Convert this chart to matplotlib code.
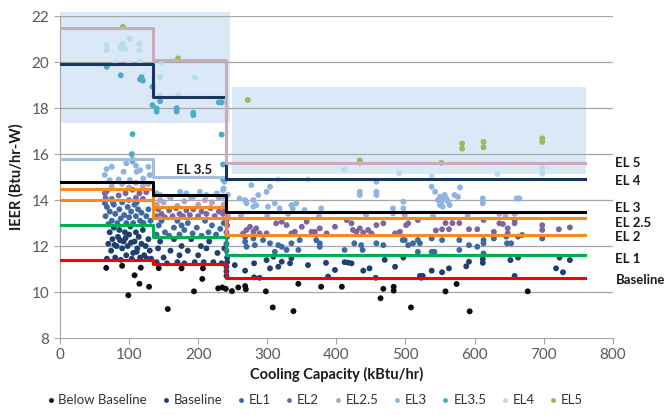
# -*- coding: utf-8 -*-
"""
IEER vs cooling capacity, with efficiency level step lines
"""
import matplotlib
matplotlib.use("Agg")
import matplotlib.pyplot as plt
from matplotlib.patches import Rectangle
from matplotlib.lines import Line2D

plt.rcParams['font.family'] = ['Lato', 'DejaVu Sans']

# capacity break points of the step lines (kBtu/hr)
breaks = [0, 135, 240, 760]

# IEER level of each standard line on each capacity range
levels = {
    "Baseline": [11.4, 11.2, 10.6],
    "EL 1": [12.9, 12.4, 11.6],
    "EL 2": [14.0, 13.2, 12.5],
    "EL 2.5": [14.5, 13.7, 13.2],
    "EL 3": [14.8, 14.2, 13.5],
    "EL 3.5": [15.8, 15.0],
    "EL 4": [19.9, 18.5, 14.9],
    "EL 5": [21.5, 20.1, 15.6],
}
line_colors = {
    "Baseline": "#FF0000", "EL 1": "#00B050", "EL 2": "#F68B1F",
    "EL 2.5": "#F68B1F", "EL 3": "#000000", "EL 3.5": "#A9BCDB",
    "EL 4": "#17375E", "EL 5": "#CDAAB8",
}
# right-hand labels (name, y position)
right_labels = [("EL 5", 15.6), ("EL 4", 14.84), ("EL 3", 13.65), ("EL 2.5", 13.0),
                ("EL 2", 12.4), ("EL 1", 11.43), ("Baseline", 10.52)]

# highlighted regions: (x0, y0, x1, y1)
regions = [(0, 17.35, 246, 22.2), (249, 15.15, 761, 18.9)]

# models (capacity, IEER) per efficiency group
below_pts = [(67, 11.05), (90, 11.14), (99, 9.86), (108, 10.73), (115, 10.36), (117, 11.06),
             (129, 10.23), (143, 11.04), (156, 9.26), (176, 11.03), (194, 10.03), (206, 10.57),
             (207, 11.03), (229, 10.16), (235, 10.2), (240, 10.14), (249, 10.04), (258, 10.2),
             (268, 10.26), (269, 10.12), (298, 10.03), (308, 9.33), (338, 9.17), (345, 10.36),
             (378, 10.23), (408, 10.23), (464, 9.73), (468, 10.14), (483, 10.23), (483, 10.06),
             (508, 9.33), (558, 10.03), (574, 10.35), (593, 9.16), (677, 10.03)]

baseline_pts = [(68, 11.45), (70, 12.1), (72, 12.6), (74, 11.8), (76, 12.3), (78, 12.8), (80, 11.5),
                (82, 12.0), (84, 12.4), (86, 12.7), (88, 11.4), (90, 11.9), (92, 12.2), (94, 12.6),
                (96, 11.6), (98, 12.0), (100, 12.5), (102, 12.85), (104, 11.45), (106, 11.7),
                (108, 12.2), (110, 12.6), (112, 11.9), (114, 12.4), (116, 11.5), (118, 12.1),
                (120, 12.7), (122, 11.6), (124, 12.0), (126, 11.45), (128, 12.3), (130, 11.8),
                (132, 11.45), (79, 12.05), (87, 12.25), (95, 12.35), (103, 12.15), (111, 11.75),
                (140, 11.3), (142, 11.9), (145, 12.2), (150, 11.5), (155, 11.25), (160, 11.8),
                (165, 12.3), (170, 11.3), (173, 11.6), (176, 12.0), (180, 11.25), (185, 11.8),
                (190, 12.3), (195, 11.3), (200, 11.6), (204, 12.0), (208, 11.3), (212, 11.9),
                (216, 12.2), (222, 11.3), (228, 11.7), (234, 11.25), (238, 11.9),
                (241, 10.7), (241, 10.9), (241, 11.1), (242, 11.3), (242, 11.5), (253, 11.17),
                (268, 10.93), (281, 11.25), (281, 10.64), (289, 10.62), (299, 11.39), (304, 11.03),
                (309, 11.54), (316, 11.1), (321, 11.32), (333, 11.25), (335, 11.47), (359, 11.17),
                (385, 11.27), (388, 10.67), (398, 10.96), (412, 11.3), (417, 11.28), (422, 11.25),
                (439, 10.93), (448, 11.03), (457, 10.62), (470, 11.4), (485, 11.1), (497, 11.5),
                (521, 10.7), (523, 10.62), (525, 10.7), (538, 10.93), (553, 10.86), (563, 11.03),
                (588, 11.12), (592, 11.32), (612, 11.43), (612, 11.27), (652, 11.39), (658, 10.7),
                (663, 11.5), (718, 11.03), (723, 11.5), (728, 10.86), (738, 11.39)]

el1_pts = [(65, 13.87), (66, 13.3), (68, 13.7), (70, 12.95), (72, 13.5), (75, 13.1), (77, 13.87),
           (78, 13.8), (80, 13.4), (83, 13.0), (86, 13.6), (88, 13.2), (90, 13.9), (93, 13.35),
           (96, 13.0), (98, 13.7), (100, 13.25), (103, 13.5), (106, 13.0), (108, 13.8),
           (110, 13.3), (111, 13.9), (113, 13.6), (116, 13.1), (118, 13.45), (121, 13.0),
           (125, 13.3), (128, 13.6), (131, 13.1),
           (140, 12.5), (143, 12.9), (147, 13.1), (152, 12.6), (158, 12.45), (165, 12.8),
           (170, 13.1), (173, 12.5), (176, 12.9), (180, 12.7), (185, 13.0), (192, 12.55),
           (198, 12.8), (205, 12.45), (210, 13.1), (215, 12.6), (220, 12.9), (226, 12.5),
           (232, 12.75), (237, 13.0),
           (241, 11.8), (241, 12.1), (242, 12.4), (268, 12.4), (268, 12.19), (270, 11.97),
           (280, 12.33), (282, 12.04), (294, 12.26), (304, 12.12), (311, 11.75), (316, 12.04),
           (321, 11.97), (328, 11.83), (335, 12.12), (345, 11.83), (347, 12.26), (371, 12.26),
           (376, 12.12), (376, 11.97), (412, 11.83), (426, 12.12), (436, 12.04), (438, 11.83),
           (458, 12.12), (468, 12.04), (496, 12.26), (499, 12.26), (504, 12.04), (511, 12.12),
           (518, 12.26), (521, 12.12), (518, 11.75), (538, 12.33), (542, 11.75), (538, 11.75),
           (553, 12.26), (578, 12.26), (578, 11.83), (592, 12.04), (604, 11.97), (613, 12.26),
           (613, 11.68), (613, 12.12), (628, 12.33), (646, 12.41), (647, 12.12), (653, 12.12),
           (663, 12.41), (669, 12.48), (698, 12.33)]

el2_pts = [(65, 14.3), (66, 14.1), (68, 14.4), (75, 14.05), (85, 14.2), (95, 14.3), (100, 14.0),
           (105, 14.45), (110, 14.1), (115, 14.3), (120, 14.05), (125, 14.35),
           (140, 13.3), (142, 13.6), (147, 13.4), (152, 13.25), (158, 13.55), (163, 13.3),
           (168, 13.65), (173, 13.4), (178, 13.3), (183, 13.55), (188, 13.35), (193, 13.6),
           (200, 13.3), (205, 13.5), (212, 13.4), (218, 13.65), (224, 13.3), (230, 13.5),
           (236, 13.4), (238, 13.6),
           (241, 12.6), (242, 12.9), (241, 13.1), (265, 12.55), (270, 12.7), (275, 12.84),
           (280, 12.62), (284, 12.77), (289, 12.55), (299, 12.55), (313, 12.99), (321, 13.06),
           (328, 12.91), (335, 12.55), (340, 12.62), (350, 12.84), (357, 13.06), (364, 12.62),
           (369, 12.62), (376, 12.77), (386, 12.55), (398, 12.84), (415, 13.13), (422, 12.99),
           (424, 12.7), (429, 12.62), (434, 12.77), (439, 12.58), (446, 12.7), (451, 12.55),
           (458, 12.91), (468, 12.99), (485, 12.55), (492, 12.62), (501, 12.91), (504, 12.99),
           (518, 13.13), (544, 12.68), (553, 12.73), (558, 13.0), (563, 12.73), (568, 13.0),
           (578, 13.0), (592, 12.73), (604, 12.73), (613, 13.13), (628, 12.62), (636, 12.99),
           (641, 12.96), (648, 12.77), (648, 12.55), (658, 13.13), (658, 12.99), (698, 12.91),
           (698, 12.7), (722, 12.73), (738, 12.81)]

el25_pts = [(75, 14.6), (90, 14.7), (100, 14.55), (110, 14.75), (120, 14.6), (128, 14.7),
            (140, 13.8), (145, 14.0), (150, 13.9), (160, 14.1), (170, 13.75), (180, 13.95),
            (190, 14.1), (200, 13.8), (210, 14.0), (220, 13.9), (230, 14.1), (237, 13.8),
            (243, 13.3), (262, 13.35), (300, 13.3), (330, 13.4), (375, 13.3), (443, 13.35),
            (482, 13.42), (499, 13.35), (540, 13.3), (590, 13.3), (636, 13.4), (645, 13.3),
            (658, 13.4)]

el3_pts = [(65, 15.09), (67.5, 15.35), (72, 14.87), (75, 15.45), (85, 14.9), (92, 15.23),
           (96, 15.6), (101, 14.87), (105, 15.67), (110, 15.5), (111, 15.23), (116, 15.3),
           (120.5, 14.94), (128, 15.45), (130, 15.09),
           (140, 14.29), (145, 14.22), (159, 14.14), (174, 14.36), (183, 14.29), (193, 14.14),
           (202.5, 14.36), (212, 14.22), (227, 14.29), (236, 14.14), (237, 14.5), (238, 14.8),
           (236, 14.43), (243, 14.22), (260, 14.07), (268, 14.0), (270, 13.86), (277, 14.65),
           (280, 14.0), (280, 13.71), (284, 13.78), (287, 14.22), (299, 14.36), (304, 14.58),
           (301, 13.71), (311, 13.86), (318, 13.64), (335, 13.78), (337, 13.64), (342, 13.86),
           (354, 13.57), (378, 13.64), (434, 14.36), (434, 14.22), (458, 14.8), (458, 14.36),
           (458, 14.22), (482, 13.64), (497, 13.93), (497, 13.64), (538, 14.58), (543, 14.36),
           (547, 14.0), (550, 14.14), (552, 13.86), (554, 13.71), (557, 14.22), (559, 14.07),
           (562, 13.93), (564, 13.78), (550, 13.78), (553, 14.1), (556, 14.2), (560, 14.0),
           (571, 14.22), (576, 14.14), (579, 14.55), (612, 14.07), (612, 13.86), (661, 14.07),
           (665, 14.07)]

el35_pts = [(67.6, 19.8), (88, 19.43), (116, 19.25), (118, 19.35), (120, 19.2), (134, 18.93),
            (134, 18.13), (140, 17.98), (140, 17.85), (145, 18.3), (169, 18.0), (169, 17.85),
            (193, 17.8), (193, 17.7), (230, 18.25), (234, 18.25), (234, 16.85), (105, 16.87),
            (104, 16.0), (105, 15.75), (236, 15.55), (236, 14.9)]

el4_pts = [(67.5, 20.74), (67.5, 20.52), (87, 20.65), (89, 20.58), (91, 20.8), (94, 20.58),
           (101, 21.03), (115, 20.8), (115, 20.52), (116, 20.0), (80, 19.95), (100, 19.95),
           (147, 20.0), (145, 19.35), (195, 19.33), (145, 18.55), (171, 18.55), (412, 15.33),
           (491, 15.16), (316, 14.9), (359, 14.9), (538, 15.04), (633, 15.13), (698, 15.4),
           (698, 15.15)]

el5_pts = [(91, 21.54), (171, 20.16), (272, 18.35), (434, 15.73), (434, 15.62), (552, 15.62),
           (582, 16.46), (582, 16.24), (613, 16.53), (613, 16.3), (698, 16.68), (698, 16.53)]

series = [
    ("Below Baseline", below_pts, "#0D0D0D"),
    ("Baseline", baseline_pts, "#1F3F6E"),
    ("EL1", el1_pts, "#3C6AA6"),
    ("EL2", el2_pts, "#8064A2"),
    ("EL2.5", el25_pts, "#B3A2C7"),
    ("EL3", el3_pts, "#8EB4E3"),
    ("EL3.5", el35_pts, "#4BACC6"),
    ("EL4", el4_pts, "#B7DEE8"),
    ("EL5", el5_pts, "#9BBB59"),
]


fig = plt.figure(figsize=(6.66, 4.15), dpi=100)
ax = fig.add_axes([0.090, 0.1855, 0.830, 0.7755])

for x0, y0, x1, y1 in regions:
    ax.add_patch(Rectangle((x0, y0), x1 - x0, y1 - y0, facecolor="#DAE8F8",
                           edgecolor="none", zorder=0.5, clip_on=False))

for yv in range(10, 23, 2):
    ax.axhline(yv, color="#A6A6A6", lw=0.9, zorder=1)

for name, pts, col in series:
    xs = [p[0] for p in pts]
    ys = [p[1] for p in pts]
    ax.scatter(xs, ys, s=18, color=col, edgecolors="none", zorder=3)

for name, lv in levels.items():
    xs = breaks[:len(lv) + 1]
    ys = lv + [lv[-1]]
    ax.step(xs, ys, where="post", color=line_colors[name], lw=2.2, zorder=4)

for name, yv in right_labels:
    ax.text(804, yv, name, fontsize=9.5, fontweight="bold", color="#1a1a1a",
            va="center", ha="left", clip_on=False)
ax.text(194, 15.3, "EL 3.5", fontsize=9.5, fontweight="bold", color="#1a1a1a",
        va="center", ha="center", zorder=5)

ax.set_xlim(0, 800)
ax.set_ylim(8, 22)
ax.set_xticks(range(0, 801, 100))
ax.set_yticks(range(8, 23, 2))
for s in ["top", "right"]:
    ax.spines[s].set_visible(False)
for s in ["left", "bottom"]:
    ax.spines[s].set_color("#A6A6A6")
ax.tick_params(colors="#A6A6A6", labelcolor="#595959", labelsize=11, length=4)

ax.set_xlabel("Cooling Capacity (kBtu/hr)", fontsize=10.5, fontweight="bold",
              color="#1a1a1a", labelpad=3)
ax.set_ylabel("IEER (Btu/hr-W)", fontsize=10.5, fontweight="bold", color="#1a1a1a",
              labelpad=6)

handles = [Line2D([], [], ls="none", marker="o", markersize=3.5, color=c,
                  markeredgecolor="none") for _, _, c in series]
fig.legend(handles, [n for n, _, _ in series], loc="center left", ncol=9,
           bbox_to_anchor=(0.06, 0.035), frameon=False, fontsize=9.5,
           handletextpad=0.2, columnspacing=1.0, handlelength=0.8,
           borderaxespad=0, labelcolor="#333333")

fig.savefig("out.png", dpi=100)
